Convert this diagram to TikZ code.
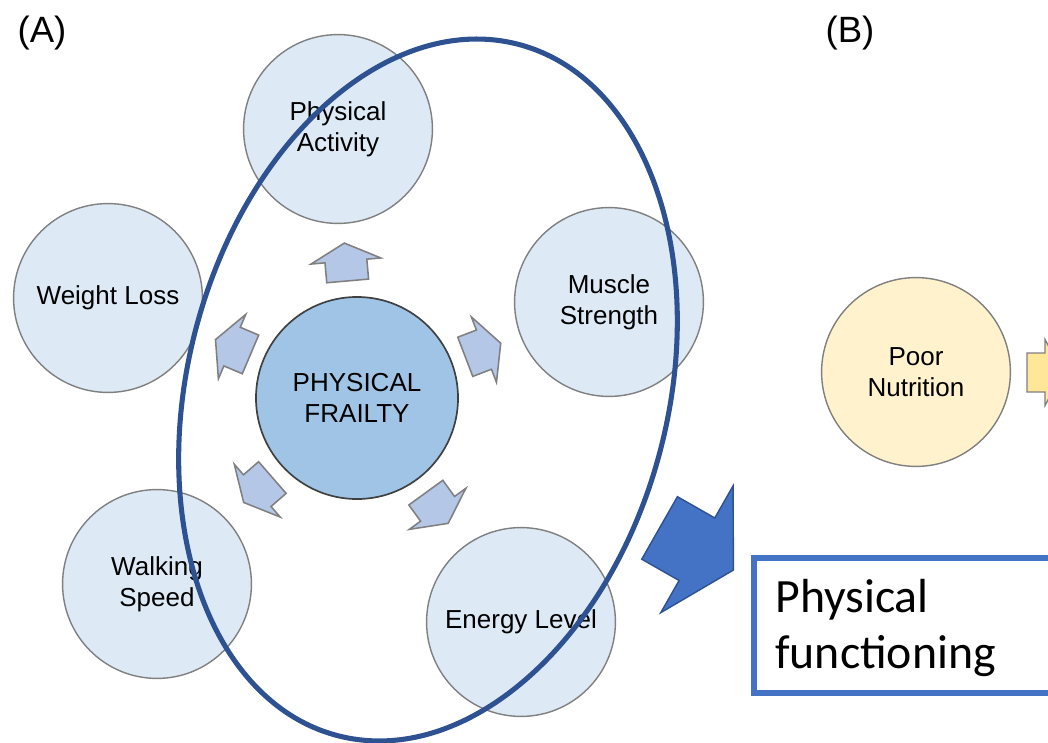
\documentclass[tikz,border=0pt]{standalone}
\usepackage{fontspec}
\setmainfont{Liberation Sans}
\newfontfamily\boxfont{Carlito}
\definecolor{outerfill}{RGB}{221,234,246}
\definecolor{corefill}{RGB}{159,196,230}
\definecolor{arrowfill}{RGB}{180,199,231}
\definecolor{ringblue}{RGB}{46,82,145}
\definecolor{bigblue}{RGB}{68,114,196}
\definecolor{nutrifill}{RGB}{255,242,204}
\definecolor{nutriarrow}{RGB}{255,230,153}
\newcommand{\blockarrow}[7]{%
  \begin{scope}[shift={#2}, rotate=#3]
    \draw[#1] (-#4,-#6) -- (#4-#5,-#6) -- (#4-#5,-#7) -- (#4,0) -- (#4-#5,#7) -- (#4-#5,#6) -- (-#4,#6) -- cycle;
  \end{scope}}

\begin{document}
\begin{tikzpicture}[x=0.025cm, y=-0.025cm,
  txt/.style={font=\fontsize{18.5}{22}\selectfont, align=center, inner sep=0pt},
  outer/.style={txt, circle, draw=gray, line width=1pt, fill=outerfill, minimum size=4.72cm},
  core/.style={txt, circle, draw=black!75, line width=1.2pt, fill=corefill, minimum size=5.05cm},
  smallarrow/.style={draw=gray, line width=1.1pt, fill=arrowfill, line join=miter},
  ring/.style={draw=ringblue, line width=3.6pt},
  label/.style={font=\fontsize{26}{30}\selectfont, inner sep=0pt}]
\clip (0,0) rectangle (1048,743);
\node[label] (labA) at (42,33) {(A)};
\node[label] (labB) at (850,33) {(B)};
\node[outer] (activity) at (338,129) {Physical\\Activity};
\node[outer] (weight) at (108,298) {Weight Loss};
\node[outer] (muscle) at (609,302) {Muscle\\Strength};
\node[outer] (walking) at (157,584) {Walking\\Speed};
\node[outer] (energy) at (521,622) {Energy Level};
\node[core] (frailty) at (357,398) {PHYSICAL\\FRAILTY};
\blockarrow{smallarrow}{(346,262)}{95}{19}{18}{21}{35}
\blockarrow{smallarrow}{(233,347)}{157}{19}{18}{21}{35}
\blockarrow{smallarrow}{(483,350)}{21}{19}{18}{21}{35}
\blockarrow{smallarrow}{(258,490)}{221}{19}{18}{21}{35}
\blockarrow{smallarrow}{(437,508)}{-54}{19}{18}{21}{35}
\coordinate (ringc) at (428,390);
\draw[ring, rotate around={-14.7:(ringc)}] (ringc) ellipse [x radius=6.0cm, y radius=8.93cm];
\blockarrow{draw=ringblue, line width=1pt, fill=bigblue}{(696.5,549)}{-29.7}{42.5}{42}{36}{73}
\node[outer, fill=nutrifill] (nutrition) at (916,372) {Poor\\Nutrition};
\blockarrow{draw=gray, line width=1pt, fill=nutriarrow}{(1045,372.5)}{0}{18}{18}{19.5}{33}
\draw[draw=bigblue, line width=4.2pt] (1070,558) -- (754,558) -- (754,693) -- (1070,693);
\node[anchor=west, align=left, inner sep=0pt, font=\boxfont\fontsize{34}{40}\selectfont] (functioning) at (775,628) {Physical\\functioning};
\end{tikzpicture}
\end{document}
